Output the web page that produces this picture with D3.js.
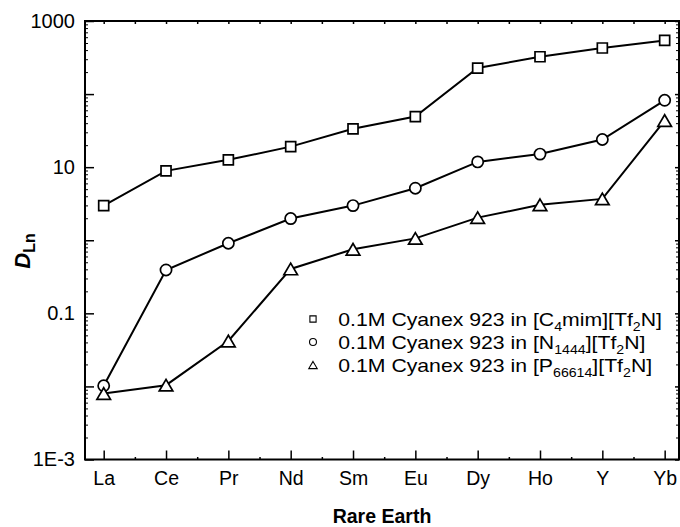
<!DOCTYPE html>
<html>
<head>
<meta charset="utf-8">
<script src="https://cdn.jsdelivr.net/npm/d3@7"></script>
<style>
  html, body { margin: 0; padding: 0; background: #fff; }
  svg { display: block; font-family: Arial, "Liberation Sans", sans-serif; }
</style>
</head>
<body>
<svg id="chart" width="680" height="527"></svg>
<script>
// Distribution ratios of rare earths with 0.1 M Cyanex 923 in three ionic liquids
const categories = ["La", "Ce", "Pr", "Nd", "Sm", "Eu", "Dy", "Ho", "Y", "Yb"];
const c4mimValues  = [2.98, 8.9, 12.6, 19.1, 33.5, 49.3, 227, 324, 427, 542];
const n1444Values  = [0.0102, 0.392, 0.91, 1.98, 2.98, 5.15, 11.8, 15.1, 23.9, 82.2];
const p66614Values = [0.0080, 0.0104, 0.0418, 0.405, 0.753, 1.06, 2.04, 3.05, 3.68, 43.5];
const yMajorTicks = [1e-3, 1e-2, 1e-1, 1, 10, 100, 1000];
const yTickLabels = { 1000: "1000", 10: "10", 0.1: "0.1", 0.001: "1E-3" };

const svg = d3.select("#chart");
const plotLeft = 85, plotRight = 679, plotTop = 21, plotBottom = 459.5;

const x = d3.scaleLinear().domain([-0.3, 9.23]).range([plotLeft, plotRight]);
const y = d3.scaleLog().domain([1e-3, 1e3]).range([plotBottom, plotTop]);

const idx = d3.range(categories.length);
const mids = d3.range(categories.length - 1).map(i => i + 0.5);
const yMinor = [];
yMajorTicks.slice(0, -1).forEach(d => { for (let k = 2; k <= 9; k++) yMinor.push(d * k); });

function styleAxis(g) {
  g.select(".domain").remove();
  g.selectAll(".tick line").attr("stroke", "#000").attr("stroke-width", 1.5);
  g.selectAll(".tick text").attr("fill", "#000");
}

// bottom axis: major ticks with element labels, minor ticks between
svg.append("g").attr("transform", `translate(0,${plotBottom})`)
  .call(d3.axisBottom(x).tickValues(idx).tickSize(-9).tickPadding(12)
    .tickFormat(i => categories[i]))
  .call(styleAxis)
  .call(g => g.selectAll(".tick text").attr("font-size", 19.5));
svg.append("g").attr("transform", `translate(0,${plotBottom})`)
  .call(d3.axisBottom(x).tickValues(mids).tickSize(-2.5).tickFormat(""))
  .call(styleAxis);

// top axis: short ticks only
svg.append("g").attr("transform", `translate(0,${plotTop})`)
  .call(d3.axisTop(x).tickValues(idx.concat(mids)).tickSize(-3).tickFormat(""))
  .call(styleAxis);

// left axis: log decades
svg.append("g").attr("transform", `translate(${plotLeft},0)`)
  .call(d3.axisLeft(y).tickValues(yMajorTicks).tickSize(-9).tickPadding(10)
    .tickFormat(d => yTickLabels[d] || ""))
  .call(styleAxis)
  .call(g => g.selectAll(".tick text").attr("font-size", 20));
svg.append("g").attr("transform", `translate(${plotLeft},0)`)
  .call(d3.axisLeft(y).tickValues(yMinor).tickSize(-3).tickFormat(""))
  .call(styleAxis)
  .call(g => g.selectAll(".tick line").attr("stroke-width", 1));

// right axis: short ticks only
svg.append("g").attr("transform", `translate(${plotRight},0)`)
  .call(d3.axisRight(y).tickValues(yMajorTicks).tickSize(-4).tickFormat(""))
  .call(styleAxis);
svg.append("g").attr("transform", `translate(${plotRight},0)`)
  .call(d3.axisRight(y).tickValues(yMinor).tickSize(-3).tickFormat(""))
  .call(styleAxis)
  .call(g => g.selectAll(".tick line").attr("stroke-width", 1));

// frame
svg.append("rect")
  .attr("x", plotLeft).attr("y", plotTop)
  .attr("width", plotRight - plotLeft).attr("height", plotBottom - plotTop)
  .attr("fill", "none").attr("stroke", "#000").attr("stroke-width", 2);

// marker shapes
const shapes = {
  square: s => `M${-5 * s},${-5 * s}h${10 * s}v${10 * s}h${-10 * s}Z`,
  circle: s => `M${5.6 * s},0A${5.6 * s},${5.6 * s} 0 1,1 ${-5.6 * s},0A${5.6 * s},${5.6 * s} 0 1,1 ${5.6 * s},0Z`,
  triangle: s => `M0,${-5.8 * s}L${6.8 * s},${5.8 * s}L${-6.8 * s},${5.8 * s}Z`
};

const series = [
  { values: c4mimValues, shape: "square", base: "[C", sub: "4", rest: "mim][Tf", sub2: "2", end: "N]" },
  { values: n1444Values, shape: "circle", base: "[N", sub: "1444", rest: "][Tf", sub2: "2", end: "N]" },
  { values: p66614Values, shape: "triangle", base: "[P", sub: "66614", rest: "][Tf", sub2: "2", end: "N]" }
];

const line = d3.line().x((d, i) => x(i)).y(d => y(d));

series.forEach(s => {
  svg.append("path")
    .attr("d", line(s.values))
    .attr("fill", "none").attr("stroke", "#000").attr("stroke-width", 2);
  svg.append("g").selectAll("path")
    .data(s.values).join("path")
    .attr("transform", (d, i) => `translate(${x(i)},${y(d)})`)
    .attr("d", shapes[s.shape](1))
    .attr("fill", "#fff").attr("stroke", "#000").attr("stroke-width", 1.7);
});

// legend: symbol plus horizontally widened label text
const legend = svg.append("g").attr("transform", "translate(313,319)");
series.forEach((s, k) => {
  const row = legend.append("g").attr("transform", `translate(0,${k * 23})`);
  row.append("path")
    .attr("d", shapes[s.shape](0.62))
    .attr("fill", "#fff").attr("stroke", "#000").attr("stroke-width", 1.1);
  const t = row.append("text")
    .attr("transform", "translate(25.3,6.7) scale(1.18,1)")
    .attr("font-size", 18).attr("fill", "#000");
  t.append("tspan").text("0.1M Cyanex 923 in " + s.base);
  t.append("tspan").attr("font-size", 12).attr("dy", 5).text(s.sub);
  t.append("tspan").attr("dy", -5).text(s.rest);
  t.append("tspan").attr("font-size", 12).attr("dy", 5).text(s.sub2);
  t.append("tspan").attr("dy", -5).text(s.end);
});

// axis titles
svg.append("text")
  .attr("x", (plotLeft + plotRight) / 2).attr("y", 523)
  .attr("text-anchor", "middle").attr("font-size", 19.5).attr("font-weight", "bold")
  .text("Rare Earth");

const yTitle = svg.append("text")
  .attr("transform", "translate(30,251) rotate(-90)")
  .attr("text-anchor", "middle").attr("font-weight", "bold").attr("font-size", 22);
yTitle.append("tspan").attr("font-style", "italic").text("D");
yTitle.append("tspan").attr("font-size", 16).attr("dy", 5).text("Ln");
</script>
</body>
</html>
